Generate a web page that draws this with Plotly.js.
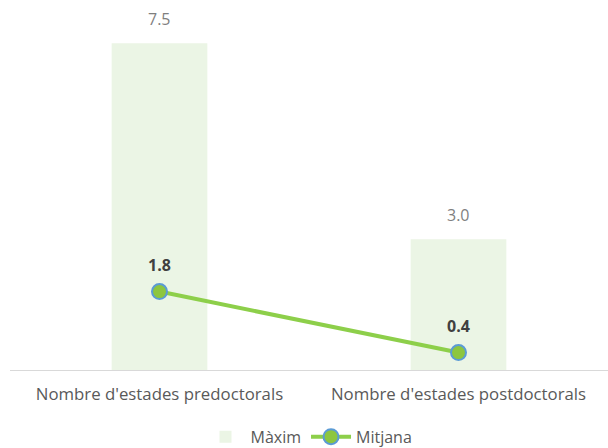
<!DOCTYPE html>
<html><head><meta charset="utf-8">
<script src="https://cdn.plot.ly/plotly-3.0.1.min.js"></script>
<style>html,body{margin:0;padding:0;background:#fff}#c{width:608px;height:448px}</style>
</head><body><div id="c"></div>
<script>
const categories = ["Nombre d'estades predoctorals", "Nombre d'estades postdoctorals"];
const maxValues = [7.5, 3.0];
const meanValues = [1.8, 0.4];
const maxLabels = ["7.5", "3.0"];
const meanLabels = ["1.8", "0.4"];

const font = "'Open Sans', 'Noto Sans', sans-serif";
const traces = [
  {type: 'bar', name: 'Màxim', x: categories, y: maxValues,
   marker: {color: '#EBF5E5'}, hoverinfo: 'none'},
  {type: 'scatter', mode: 'lines+markers', name: 'Mitjana', x: categories, y: meanValues,
   line: {color: '#8DCF4A', width: 4},
   marker: {size: 15, color: '#8DC63F', line: {color: '#5B9BD5', width: 2}}, hoverinfo: 'none'}
];
const annotations = [];
categories.forEach((c, i) => {
  annotations.push({x: c, y: maxValues[i], text: maxLabels[i], showarrow: false,
    yanchor: 'bottom', yshift: 11, font: {family: font, size: 16, color: '#7F7F7F'}});
  annotations.push({x: c, y: meanValues[i], text: '<b>' + meanLabels[i] + '</b>', showarrow: false,
    yanchor: 'bottom', yshift: 14, font: {family: font, size: 16, color: '#404040'}});
});
const layout = {
  width: 608, height: 448,
  margin: {l: 10, r: 0, t: 4, b: 78, autoexpand: false},
  paper_bgcolor: '#fff', plot_bgcolor: '#fff',
  bargap: 0.68,
  showlegend: true,
  legend: {orientation: 'h', x: 0.5, xanchor: 'center', yref: 'container', y: 0.025, yanchor: 'middle',
    itemwidth: 40,
    font: {family: font, size: 16, color: '#595959'}, traceorder: 'normal'},
  xaxis: {showline: true, linecolor: '#D9D9D9', linewidth: 1, ticks: '', showgrid: false,
    ticklabelstandoff: 9,
    tickfont: {family: font, size: 16.8, color: '#595959'}, fixedrange: true},
  yaxis: {range: [0, 8.4], visible: false, showgrid: false, zeroline: false, fixedrange: true},
  annotations: annotations,
  font: {family: font}
};
Plotly.newPlot('c', traces, layout, {displayModeBar: false, staticPlot: true});
</script></body></html>
